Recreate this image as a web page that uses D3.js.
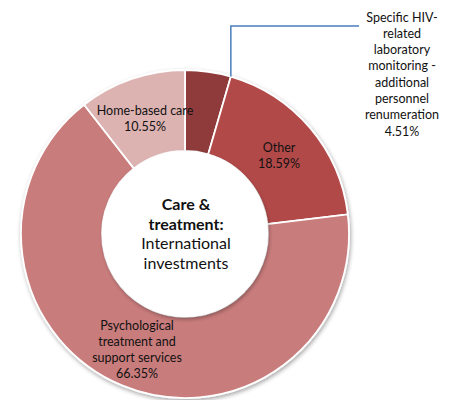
<!DOCTYPE html>
<html>
<head>
<meta charset="utf-8">
<script src="https://cdn.jsdelivr.net/npm/d3@7"></script>
<style>
  body { margin: 0; background: #fff; }
  svg text { font-family: Lato, "Open Sans", sans-serif; fill: #111; }
</style>
</head>
<body>
<svg id="chart" width="452" height="400"></svg>
<script>
"use strict";

var categories = [
    "Specific HIV-related laboratory monitoring - additional personnel renumeration",
    "Other",
    "Psychological treatment and support services",
    "Home-based care"
];
var shares = [4.51, 18.59, 66.35, 10.55];
var colours = ["#8f3b3a", "#b24a48", "#c97b7b", "#ddb3b2"];

// label lines as they are wrapped in the picture
var labelLines = [
    ["Specific HIV-", "related", "laboratory", "monitoring -", "additional", "personnel", "renumeration"],
    ["Other"],
    ["Psychological", "treatment and", "support services"],
    ["Home-based care"]
];
var centreLines = [
    { text: "Care &", bold: true },
    { text: "treatment:", bold: true },
    { text: "International", bold: false },
    { text: "investments", bold: false }
];

var svg = d3.select("#chart");
var cx = 185, cy = 234;
var outerR = 164, innerR = 83;

var defs = svg.append("defs");
var shadow = defs.append("filter").attr("id", "shadow")
    .attr("x", "-20%").attr("y", "-20%").attr("width", "140%").attr("height", "140%");
shadow.append("feDropShadow")
    .attr("dx", 1).attr("dy", 2).attr("stdDeviation", 2)
    .attr("flood-color", "#000").attr("flood-opacity", 0.35);

var pie = d3.pie().sort(null).value(function (d) { return d; });
var arc = d3.arc().innerRadius(innerR).outerRadius(outerR);
var arcs = pie(shares);

var g = svg.append("g").attr("transform", "translate(" + cx + "," + cy + ")");

// ring with white separators and a soft shadow
g.append("g")
    .attr("filter", "url(#shadow)")
    .selectAll("path")
    .data(arcs)
    .enter()
    .append("path")
    .attr("d", arc)
    .attr("fill", function (d, i) { return colours[i]; })
    .attr("stroke", "#fff")
    .attr("stroke-width", 1.8);

// shadow falling into the hole
g.append("circle")
    .attr("r", innerR - 1)
    .attr("fill", "#fff")
    .attr("stroke", "#fff")
    .attr("stroke-width", 2)
    .attr("filter", "url(#shadow)");

// centre title
var centre = g.append("text").attr("text-anchor", "middle").attr("font-size", 16);
centre.selectAll("tspan")
    .data(centreLines)
    .enter()
    .append("tspan")
    .attr("x", 1)
    .attr("y", function (d, i) { return -24 + i * 19.5; })
    .attr("font-weight", function (d) { return d.bold ? "bold" : "normal"; })
    .text(function (d) { return d.text; });

// labels inside the slices
var labelPos = [null, [94, -82.5], [-48, 95.5], [-40, -119.5]];
var lineH = 16.3;
arcs.forEach(function (a, i) {
    if (!labelPos[i]) return;
    var lines = labelLines[i].concat([shares[i].toFixed(2) + "%"]);
    var t = g.append("text").attr("text-anchor", "middle").attr("font-size", 12.5);
    t.selectAll("tspan")
        .data(lines)
        .enter()
        .append("tspan")
        .attr("x", labelPos[i][0])
        .attr("y", function (d, k) { return labelPos[i][1] + k * lineH; })
        .text(function (d) { return d; });
});

// callout for the small first slice, from the outer corner at its end
var first = arcs[0];
var edge = [outerR * Math.sin(first.endAngle), -outerR * Math.cos(first.endAngle)];
var kink = [edge[0], -208];
var end = [174, -208];
g.append("path")
    .attr("d", d3.line()([edge, kink, end]))
    .attr("fill", "none")
    .attr("stroke", "#4a7ebb")
    .attr("stroke-width", 1.5);

var callLines = labelLines[0].concat([shares[0].toFixed(2) + "%"]);
var callout = g.append("text").attr("text-anchor", "middle").attr("font-size", 12.5);
callout.selectAll("tspan")
    .data(callLines)
    .enter()
    .append("tspan")
    .attr("x", 217)
    .attr("y", function (d, k) { return -212.5 + k * lineH; })
    .text(function (d) { return d; });
</script>
</body>
</html>
